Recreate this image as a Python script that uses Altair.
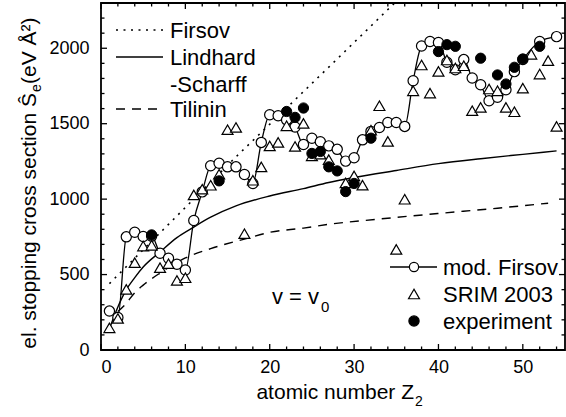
import altair as alt
import pandas as pd

FONT = "Liberation Sans"

# ---------------- data ----------------
Z_MOD = list(range(1, 51)) + [52, 54]
S_MOD = [258, 215, 750, 780, 752, 755, 641, 608, 568, 530,
         858, 1048, 1221, 1238, 1214, 1214, 1163, 1104, 1376, 1559,
         1553, 1525, 1478, 1362, 1404, 1380, 1353, 1330, 1252, 1274,
         1393, 1449, 1475, 1508, 1508, 1482, 1785, 2015, 2045, 2038,
         1907, 1858, 1925, 1803, 1758, 1652, 1675, 1725, 1845, 1925,
         2045, 2077]

Z_SRIM = list(range(1, 28)) + list(range(29, 55))
S_SRIM = [147, 209, 402, 579, 689, 694, 546, 572, 461, 479,
          1028, 1066, 1092, 1165, 1460, 1475, 771, 1125, 1214, 1353,
          1376, 1486, 1349, 1502, 1287, 1298, 1262,
          1108, 1154, 1093, 1457, 1619, 1383, 667, 999, 1718,
          1889, 1703, 1847, 1922, 1869, 1884, 1586, 1608, 1730, 1718,
          1608, 1579, 1736, 1960, 1829, 1918, 1482]

Z_EXP = [6, 14, 22, 23, 24, 25, 26, 27, 28, 29, 30, 32, 40, 41, 42, 45, 47, 48, 49, 50, 52]
S_EXP = [763, 1121, 1581, 1542, 1604, 1303, 1316, 1214, 1187, 1050, 1104, 1404,
         1978, 2024, 2013, 1934, 1823, 1763, 1874, 1929, 2013]

Z_FIRSOV = [1, 8, 16, 27, 34.8]
S_FIRSOV = [440, 833, 1280, 1875, 2300]

Z_LS = [1, 2, 3, 4, 5, 7, 9, 11, 13, 16, 20, 24, 27, 30, 35, 40, 45, 50, 54]
S_LS = [140, 285, 400, 480, 550, 650, 745, 815, 880, 955, 1021, 1070, 1110, 1143,
        1190, 1235, 1268, 1297, 1320]

Z_TIL = [2, 3, 4, 5, 7, 10, 13, 17, 20, 24, 27, 33, 40, 47, 53]
S_TIL = [255, 310, 380, 430, 510, 610, 672, 735, 780, 808, 833, 868, 905, 940, 973]

X_MAJOR = [0, 10, 20, 30, 40, 50]
X_MINOR = [2, 4, 6, 8, 12, 14, 16, 18, 22, 24, 26, 28, 32, 34, 36, 38, 42, 44, 46, 48, 52, 54]
Y_MAJOR = [0, 500, 1000, 1500, 2000]
Y_MINOR = [100, 200, 300, 400, 600, 700, 800, 900, 1100, 1200, 1300, 1400,
           1600, 1700, 1800, 1900, 2100, 2200]

# ---------------- layout ----------------
W, H = 464, 347
PAD_L, PAD_T = 101, 3

XS = alt.Scale(domain=[0, 55], nice=False, zero=False)
YS = alt.Scale(domain=[0, 2300], nice=False, zero=False)
XA = alt.Axis(values=X_MAJOR, ticks=False, domain=False, grid=False, title=None,
              labelFontSize=18, labelFont=FONT, labelColor="black", labelPadding=8,
              format="d")
YA = alt.Axis(values=Y_MAJOR, ticks=False, domain=False, grid=False, title=None,
              labelFontSize=18, labelFont=FONT, labelColor="black", labelPadding=12,
              format="d")


def ex(f):
    return alt.X(f, type="quantitative", scale=XS, axis=XA)


def ey(f):
    return alt.Y(f, type="quantitative", scale=YS, axis=YA)


def df(z, s):
    return pd.DataFrame({"z": z, "s": s})


CIRC = 105
TRI = 120

layers = []

# theory curves
layers.append(alt.Chart(df(Z_FIRSOV, S_FIRSOV)).mark_line(
    color="black", strokeWidth=1.6, strokeDash=[2, 5.5], clip=True).encode(x=ex("z"), y=ey("s")))
layers.append(alt.Chart(df(Z_LS, S_LS)).mark_line(
    color="black", strokeWidth=1.4, interpolate="monotone").encode(x=ex("z"), y=ey("s")))
layers.append(alt.Chart(df(Z_TIL, S_TIL)).mark_line(
    color="black", strokeWidth=1.4, strokeDash=[9, 7], interpolate="monotone").encode(x=ex("z"), y=ey("s")))

# modified Firsov
layers.append(alt.Chart(df(Z_MOD, S_MOD)).mark_line(
    color="black", strokeWidth=1.3, interpolate="monotone").encode(x=ex("z"), y=ey("s")))
layers.append(alt.Chart(df(Z_MOD, S_MOD)).mark_point(
    shape="circle", size=CIRC, filled=True, fill="white", stroke="black",
    strokeWidth=1.2, opacity=1).encode(x=ex("z"), y=ey("s")))

# SRIM triangles
layers.append(alt.Chart(df(Z_SRIM, S_SRIM)).mark_point(
    shape="triangle-up", size=TRI, filled=True, fill="white", stroke="black",
    strokeWidth=1.2, opacity=1).encode(x=ex("z"), y=ey("s")))

# experiment
layers.append(alt.Chart(df(Z_EXP, S_EXP)).mark_point(
    shape="circle", size=CIRC, filled=True, fill="black", stroke="black",
    strokeWidth=1, opacity=1).encode(x=ex("z"), y=ey("s")))

# inward ticks on all four sides
for vals, ln in ((X_MAJOR, 6), (X_MINOR, 3.5)):
    d = pd.DataFrame({"v": vals})
    layers.append(alt.Chart(d).mark_rule(color="black", strokeWidth=1.3).encode(
        x=ex("v"), y=alt.value(H), y2=alt.value(H - ln)))
    layers.append(alt.Chart(d).mark_rule(color="black", strokeWidth=1.3).encode(
        x=ex("v"), y=alt.value(0), y2=alt.value(ln)))
for vals, ln in ((Y_MAJOR, 6), (Y_MINOR, 3.5)):
    d = pd.DataFrame({"v": vals})
    layers.append(alt.Chart(d).mark_rule(color="black", strokeWidth=1.3).encode(
        y=ey("v"), x=alt.value(0), x2=alt.value(ln)))
    layers.append(alt.Chart(d).mark_rule(color="black", strokeWidth=1.3).encode(
        y=ey("v"), x=alt.value(W), x2=alt.value(W - ln)))


def txt(text, x, y, size=22, align="left", baseline="middle", angle=None):
    kw = dict(text=text, fontSize=size, align=align, baseline=baseline, font=FONT, color="black")
    if angle is not None:
        kw["angle"] = angle
    return alt.Chart(alt.Data(values=[{}])).mark_text(**kw).encode(
        x=alt.value(x - PAD_L), y=alt.value(y - PAD_T))


def seg(x1, x2, y, dash=None, width=1.4):
    kw = dict(color="black", strokeWidth=width)
    if dash:
        kw["strokeDash"] = dash
    return alt.Chart(alt.Data(values=[{}])).mark_rule(**kw).encode(
        x=alt.value(x1 - PAD_L), x2=alt.value(x2 - PAD_L), y=alt.value(y - PAD_T))


def sym(x, y, shape, fill, size):
    return alt.Chart(alt.Data(values=[{}])).mark_point(
        shape=shape, size=size, filled=True, fill=fill, stroke="black", strokeWidth=1.2,
        opacity=1).encode(x=alt.value(x - PAD_L), y=alt.value(y - PAD_T))


# top-left legend
layers += [
    seg(116, 163, 30, dash=[2, 5.5], width=1.6), txt("Firsov", 170, 31),
    seg(116, 163, 57), txt("Lindhard", 170, 58),
    txt("-Scharff", 170, 85),
    seg(116, 163, 109, dash=[9, 7]), txt("Tilinin", 170, 110),
]
# bottom-right legend
layers += [
    seg(390, 437, 267, width=1.3), sym(414, 267, "circle", "white", CIRC - 20),
    txt("mod. Firsov", 443, 268),
    sym(414, 294, "triangle-up", "white", TRI), txt("SRIM 2003", 443, 295),
    sym(414, 321, "circle", "black", CIRC), txt("experiment", 443, 322),
]
# v = v0
layers += [txt("v = v", 272, 297), txt("0", 321, 307, size=15)]

# axis titles
layers += [
    txt("atomic number Z", 414, 399, size=21, align="right", baseline="alphabetic"),
    txt("2", 415, 406, size=14, baseline="alphabetic"),
    txt("el. stopping cross section Ŝ", 36, 93, size=21, align="right",
        baseline="alphabetic", angle=270),
    txt("e", 41, 92, size=14, align="left", baseline="alphabetic", angle=270),
    txt("(eV Å²)", 36, 84, size=21, align="left", baseline="alphabetic", angle=270),
]

chart = alt.layer(*layers).properties(
    width=W, height=H,
    padding={"left": PAD_L, "top": PAD_T, "right": 1, "bottom": 67},
    autosize="none",
).configure_view(stroke="black", strokeWidth=1.8)

chart.save("out.html", embed_options={"renderer": "svg", "actions": False})
